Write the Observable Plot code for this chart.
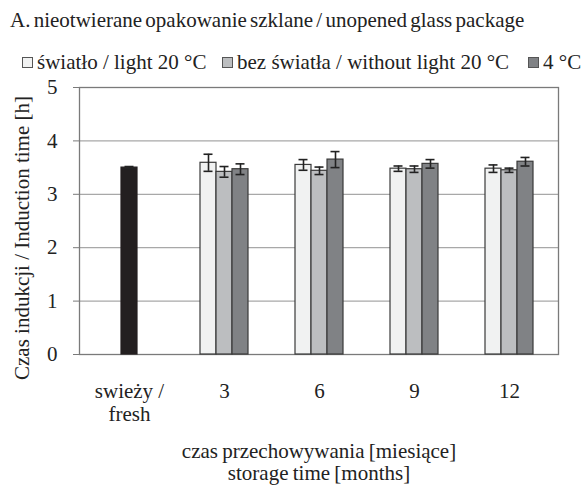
<!DOCTYPE html>
<html>
<head>
<meta charset="utf-8">
<script src="https://cdn.jsdelivr.net/npm/d3@7"></script>
<script src="https://cdn.jsdelivr.net/npm/@observablehq/plot@0.6"></script>
<style>
  html, body { margin: 0; padding: 0; background: #fff; }
  #fig { position: relative; width: 585px; height: 490px; font-family: "Liberation Serif", "Times New Roman", Tinos, "DejaVu Serif", serif; color: #222; overflow: hidden; }
  #fig .t { position: absolute; white-space: nowrap; }
  #title { left: 10px; top: 8px; font-size: 21px; word-spacing: -2px; }
  .leg { top: 50px; font-size: 21px; display: flex; align-items: center; }
  .sw { display: inline-block; width: 9px; height: 9px; border: 1px solid #555; margin-right: 4px; }
  #ylab { left: 21.5px; top: 238px; font-size: 21px; transform: translate(-50%, -50%) rotate(-90deg); }
  #xlab { left: 319px; top: 440px; font-size: 21px; word-spacing: -1px; text-align: center; line-height: 22px; transform: translateX(-50%); }
  #chart { position: absolute; left: 0; top: 0; }
</style>
</head>
<body>
<div id="fig">
  <div id="chart"></div>
  <div class="t" id="title">A. nieotwierane opakowanie szklane / unopened glass package</div>
  <div class="t leg" style="left:22px"><span class="sw" style="background:#f1f2f2"></span>światło / light 20 °C</div>
  <div class="t leg" style="left:222px"><span class="sw" style="background:#bcbec0"></span>bez światła / without light 20 °C</div>
  <div class="t leg" style="left:528px"><span class="sw" style="background:#808285"></span>4 °C</div>
  <div class="t" id="ylab">Czas indukcji / Induction time [h]</div>
  <div class="t" id="xlab">czas przechowywania [miesiące]<br>storage time [months]</div>
</div>
<script>
// ---- data ----
const categories = ["swieży /\nfresh", "3", "6", "9", "12"];
const months = ["3", "6", "9", "12"];
const seriesNames = ["fresh", "światło / light 20 °C", "bez światła / without light 20 °C", "4 °C"];
const seriesColors = ["#231f20", "#f1f2f2", "#bcbec0", "#808285"];
const yTicks = [0, 1, 2, 3, 4, 5];

const freshValue = 3.50;
const freshErr = 0.02;
const lightValues = [3.59, 3.55, 3.48, 3.48];
const lightErr    = [0.16, 0.10, 0.05, 0.07];
const darkValues  = [3.42, 3.44, 3.47, 3.45];
const darkErr     = [0.10, 0.07, 0.06, 0.04];
const coldValues  = [3.47, 3.65, 3.57, 3.61];
const coldErr     = [0.10, 0.15, 0.08, 0.08];

// ---- table ----
const rows = [{cat: categories[0], s: seriesNames[0], v: freshValue, e: freshErr}];
[lightValues, darkValues, coldValues].forEach((vals, i) => {
  const errs = [lightErr, darkErr, coldErr][i];
  months.forEach((m, j) => rows.push({cat: m, s: seriesNames[i + 1], v: vals[j], e: errs[j]}));
});

const FONT = "'Liberation Serif', 'Times New Roman', Tinos, 'DejaVu Serif', serif";
const offsets = [0, -16, 0, 16];
const marks = [
  Plot.gridY(yTicks.slice(1, -1), {stroke: "#a8a8a8", strokeOpacity: 1, strokeWidth: 1.2}),
  Plot.frame({stroke: "#7a7a7a", strokeWidth: 1.3})
];
seriesNames.forEach((s, i) => {
  const d = rows.filter(r => r.s === s);
  marks.push(Plot.barY(d, {x: "cat", y: "v", fill: "s", stroke: i === 0 ? "#231f20" : "#3a3a3a", strokeWidth: 1.2, dx: offsets[i]}));
  marks.push(Plot.ruleX(d, {x: "cat", y1: r => r.v - r.e, y2: r => r.v + r.e, stroke: "#222", strokeWidth: 1.6, dx: offsets[i]}));
  marks.push(Plot.tickY(d, {x: "cat", y: r => r.v + r.e, stroke: "#222", strokeWidth: 1.6, dx: offsets[i], insetLeft: 3.5, insetRight: 3.5}));
  marks.push(Plot.tickY(d, {x: "cat", y: r => r.v - r.e, stroke: "#222", strokeWidth: 1.6, dx: offsets[i], insetLeft: 3.5, insetRight: 3.5}));
});
marks.push(Plot.axisY({ticks: yTicks, tickFormat: d3.format("d"), tickSize: 6, tickPadding: 16, fontSize: 21, fontFamily: FONT, stroke: "#7a7a7a", fill: "#222", label: null}));
marks.push(Plot.axisX({tickSize: 0, tickPadding: 26, fontSize: 21, fontFamily: FONT, lineHeight: 1.14, fill: "#222", label: null}));

const chart = Plot.plot({
  width: 585,
  height: 430,
  marginTop: 87,
  marginBottom: 76,
  marginLeft: 79,
  marginRight: 27,
  style: {fontFamily: FONT, fontSize: "21px", color: "#222", background: "transparent"},
  x: {domain: categories, paddingInner: 5 / 6, paddingOuter: 5 / 12, axis: null},
  y: {domain: [0, 5], axis: null},
  color: {domain: seriesNames, range: seriesColors},
  marks
});
document.getElementById("chart").appendChild(chart);
</script>
</body>
</html>
